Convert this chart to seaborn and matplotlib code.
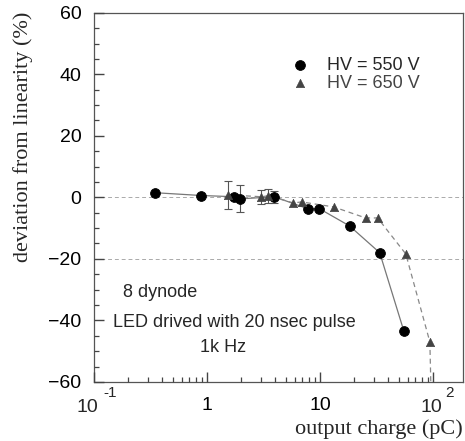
import numpy as np
import pandas as pd
import seaborn as sns
import matplotlib.pyplot as plt
from matplotlib.ticker import LogLocator, MultipleLocator, FixedLocator, FixedFormatter
from matplotlib.transforms import blended_transform_factory

# Data
q_550 = [0.35, 0.89, 1.75, 1.97, 3.95, 7.8, 9.9, 18.3, 33.8, 55.2]
dev_550 = [1.5, 0.6, 0.2, -0.5, 0.2, -3.7, -3.7, -9.3, -18.0, -43.4]
err_550 = [0, 0, 0, 4.4, 2.0, 0, 0, 0, 0, 0]

q_650 = [1.55, 3.02, 3.5, 5.8, 6.9, 13.2, 25.4, 32.4, 57.5, 93.9, 100.0]
dev_650 = [0.8, 0.2, 0.5, -1.8, -1.5, -3.1, -6.7, -6.7, -18.4, -47.0, -90.0]
err_650 = [4.6, 2.3, 2.3, 0, 0, 0, 0, 0, 0, 0, 0]

xtick_vals = [0.1, 1, 10, 100]
xtick_labels = ['', '1', '10', '']
xtick_exp = [(0.1, '-1', -6.5, 9), (100, '2', -1.5, 12)]

df550 = pd.DataFrame({'q': q_550, 'dev': dev_550, 'err': err_550})
df650 = pd.DataFrame({'q': q_650, 'dev': dev_650, 'err': err_650})

sns.set_style('ticks')
plt.rcParams['font.family'] = ['Liberation Sans', 'DejaVu Sans']

fig = plt.figure(figsize=(4.65, 4.41), dpi=100)
ax = fig.add_axes([0.202, 0.134, 0.794, 0.837])

# reference lines
for yv in [0, -20]:
    ax.axhline(yv, color='#aaaaaa', lw=0.7, ls=(0, (4, 3)), zorder=1)

# connecting lines
sns.lineplot(data=df550, x='q', y='dev', ax=ax, color='#777777', lw=0.9,
             sort=False, estimator=None, zorder=2)
sns.lineplot(data=df650, x='q', y='dev', ax=ax, color='#888888', lw=0.9,
             ls=(0, (4, 3)), sort=False, estimator=None, zorder=2)

# error bars
e5 = df550[df550.err > 0]
e6 = df650[df650.err > 0]
for e in (e5, e6):
    ax.errorbar(e.q, e.dev, yerr=e.err, fmt='none', ecolor='#555555',
                elinewidth=0.8, capsize=3, capthick=0.8, zorder=3)

# markers
sns.scatterplot(data=df550, x='q', y='dev', ax=ax, marker='o', s=50,
                color='black', edgecolor='black', zorder=4, label='HV = 550 V')
sns.scatterplot(data=df650, x='q', y='dev', ax=ax, marker='^', s=36,
                color='#444444', edgecolor='#444444', zorder=4, label='HV = 650 V')

ax.set_xscale('log')
ax.set_xlim(0.1, 185)
ax.set_ylim(-60, 60)

ax.xaxis.set_major_locator(FixedLocator(xtick_vals))
ax.xaxis.set_major_formatter(FixedFormatter(xtick_labels))
ax.xaxis.set_minor_locator(LogLocator(base=10, subs=np.arange(2, 10), numticks=20))
ax.yaxis.set_major_locator(MultipleLocator(20))
ax.yaxis.set_minor_locator(MultipleLocator(5))

# power-of-ten labels with a detached superscript, as in the reference
tr = blended_transform_factory(ax.transData, ax.transAxes)
for xv, ex, dx10, dxe in xtick_exp:
    ax.annotate('10', xy=(xv, -0.068), xycoords=tr, xytext=(dx10 * 0.72, 0),
                textcoords='offset points', fontsize=14, ha='center', va='center',
                annotation_clip=False)
    ax.annotate(ex, xy=(xv, -0.030), xycoords=tr, xytext=(dxe * 0.72, 0),
                textcoords='offset points', fontsize=11, ha='left', va='center',
                annotation_clip=False)

for sp in ax.spines.values():
    sp.set_color('#555555')
    sp.set_linewidth(0.9)

ax.set_xlabel('output charge (pC)', family='Liberation Serif', fontsize=16,
              loc='right', labelpad=4)
ax.set_ylabel('deviation from linearity (%)', family='Liberation Serif', fontsize=16,
              labelpad=8)
ax.yaxis.set_label_coords(-0.165, 0.664)

leg = ax.legend(loc='upper left', bbox_to_anchor=(0.465, 0.925), frameon=False,
                fontsize=13, handletextpad=0.5, labelspacing=0.05, markerscale=1.0)
leg.get_texts()[1].set_color('#444444')

ax.text(0.079, 0.241, '8 dynode', transform=ax.transAxes, fontsize=13, va='center')
ax.text(0.051, 0.160, 'LED drived with 20 nsec pulse', transform=ax.transAxes,
        fontsize=13, va='center')
ax.text(0.287, 0.092, '1k Hz', transform=ax.transAxes, fontsize=13, va='center')

# ticks: inward, bottom/left only, drawn above the data
ax.set_axisbelow(False)
ax.tick_params(which='major', direction='in', length=7, width=1.0, color='#444444',
               bottom=True, left=True, top=False, right=False,
               labelsize=14, labelcolor='black', pad=9)
ax.tick_params(which='minor', direction='in', length=3.5, width=0.9, color='#444444',
               bottom=True, left=True, top=False, right=False)
ax.tick_params(axis='x', which='major', pad=11)

fig.savefig('out.png', dpi=100)
